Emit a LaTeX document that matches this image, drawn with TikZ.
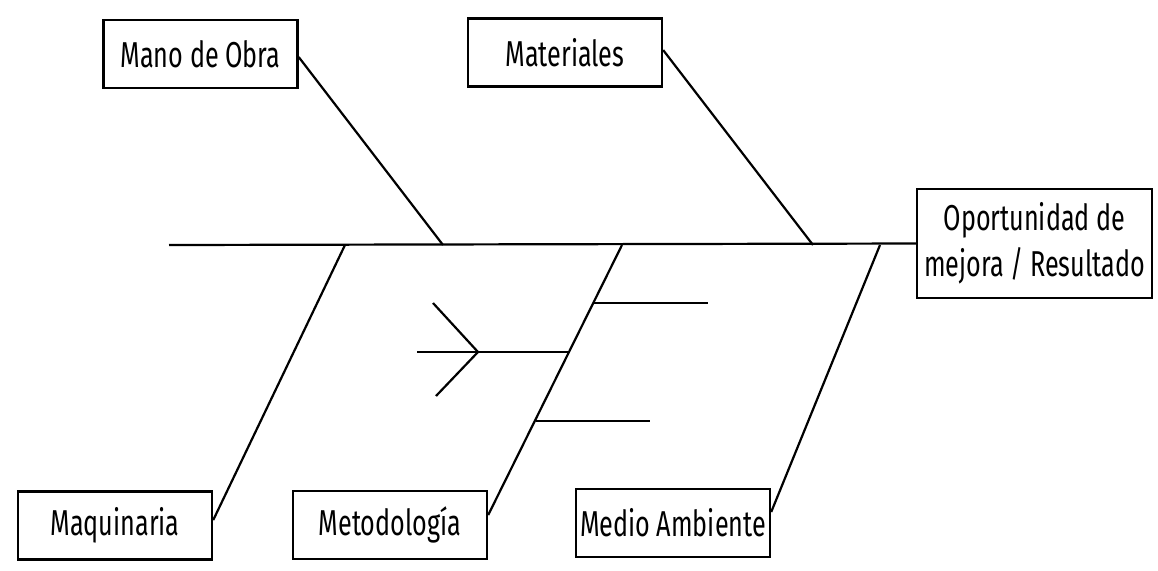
\documentclass[tikz,border=0pt]{standalone}
\usepackage{fontspec}
\setmainfont{Fira Sans}[FakeStretch=0.7]
\usetikzlibrary{positioning}

\begin{document}
\begin{tikzpicture}[x=0.5pt, y=-0.5pt,
    cause/.style={rectangle, draw=black, line width=1.2pt, fill=white,
        minimum width=97pt, minimum height=34pt, inner sep=0pt,
        font=\fontsize{18}{23}\selectfont},
    effect/.style={rectangle, draw=black, line width=1.2pt, fill=white,
        minimum width=117.5pt, minimum height=54.5pt, inner sep=0pt, align=center,
        font=\fontsize{18}{23}\selectfont},
    bone/.style={draw=black, line width=1.1pt}
]

\useasboundingbox (0,0) rectangle (1158,570);

% --- Efecto ---
\node[effect] (efecto) at (1034.5,243.5) {Oportunidad de\\mejora / Resultado};

% --- Causas ---
\node[cause] (mano) at (200.5,54) {Mano de Obra};
\node[cause] (mater) at (565,52.5) {Materiales};
\node[cause] (maqui) at (115,525.5) {Maquinaria};
\node[cause] (metod) at (390,525) {Metodología};
\node[cause] (medio) at (673,523) {Medio Ambiente};

% --- Espina central ---
\coordinate (cola) at (169,245);
\coordinate (jmano) at (443,245);
\coordinate (jmater) at (813,245);
\coordinate (jmaqui) at (345,245);
\coordinate (jmetod) at (622,245);
\coordinate (jmedio) at (880,245);

\draw[bone] (cola) -- (efecto.west);

% --- Espinas de causas ---
\draw[bone] ([yshift=-1.5pt]mano.east) -- (jmano);
\draw[bone] ([yshift=1.2pt]mater.east) -- (jmater);
\draw[bone] ([yshift=2.7pt]maqui.east) -- (jmaqui);
\draw[bone] ([yshift=5pt]metod.east) -- (jmetod);
\draw[bone] ([yshift=5.5pt]medio.east) -- (jmedio);

% --- Subcausas (Metodologia) ---
\coordinate (s1) at (593,303);
\coordinate (s1fin) at (708,303);
\coordinate (s2) at (569,352);
\coordinate (s2fin) at (417,352);
\coordinate (s3) at (536,421);
\coordinate (s3fin) at (650,421);
\coordinate (punta) at (478,352);
\coordinate (brazo1) at (433,303);
\coordinate (brazo2) at (436,396);

\draw[bone] (s1) -- (s1fin);
\draw[bone] (s2) -- (s2fin);
\draw[bone] (s3) -- (s3fin);
\draw[bone] (brazo1) -- (punta) -- (brazo2);

\end{tikzpicture}
\end{document}
